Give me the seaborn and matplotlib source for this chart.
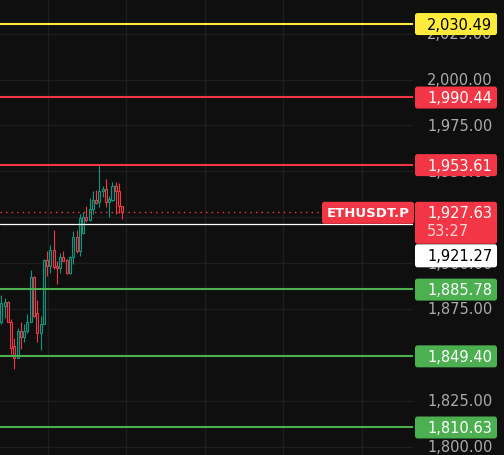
import numpy as np
import pandas as pd
import seaborn as sns
import matplotlib
matplotlib.use("Agg")
from matplotlib import pyplot as plt
from matplotlib.patches import FancyBboxPatch

# candle data (ETHUSDT.P)
opens = [1867.9, 1876.6, 1878.5, 1867.9, 1854.5, 1848.5, 1863.0, 1859.9, 1863.0, 1867.6,
         1892.1, 1872.5, 1861.6, 1867.0, 1901.5, 1898.5, 1907.0, 1898.1, 1897.5, 1903.5,
         1901.5, 1894.8, 1903.5, 1913.9, 1906.3, 1916.3, 1925.3, 1923.5, 1929.3, 1934.3,
         1933.0, 1939.0, 1940.6, 1933.0, 1934.4, 1941.7, 1939.3, 1930.8]
highs = [1882.5, 1881.2, 1879.4, 1869.4, 1859.0, 1864.8, 1867.6, 1866.7, 1872.1, 1896.1,
         1893.0, 1879.7, 1871.2, 1902.1, 1906.6, 1909.7, 1917.9, 1901.2, 1905.7, 1906.6,
         1902.1, 1903.9, 1917.2, 1917.9, 1926.6, 1927.9, 1930.8, 1935.2, 1939.3, 1939.7,
         1953.3, 1942.1, 1945.7, 1936.6, 1944.2, 1943.9, 1943.5, 1931.2]
lows = [1866.7, 1870.3, 1867.6, 1850.3, 1842.1, 1848.1, 1853.0, 1857.0, 1862.1, 1867.6,
        1870.8, 1856.7, 1852.7, 1866.7, 1893.0, 1894.8, 1896.6, 1888.5, 1894.8, 1901.2,
        1893.9, 1893.9, 1899.4, 1905.7, 1903.9, 1915.7, 1922.1, 1923.0, 1926.6, 1932.1,
        1930.3, 1935.7, 1930.3, 1925.3, 1933.9, 1926.6, 1927.5, 1923.9]
closes = [1878.1, 1878.5, 1867.9, 1853.9, 1848.5, 1863.0, 1859.9, 1863.0, 1867.6, 1892.1,
          1871.2, 1861.6, 1867.0, 1901.5, 1898.5, 1907.0, 1897.9, 1897.4, 1903.5, 1901.2,
          1894.8, 1903.5, 1913.9, 1906.3, 1924.3, 1925.3, 1923.5, 1929.3, 1934.3, 1932.6,
          1939.0, 1940.6, 1933.0, 1934.8, 1941.7, 1939.3, 1930.8, 1927.63]

level_prices = [2030.49, 1990.44, 1953.61, 1885.78, 1849.40, 1810.63]
level_colors = ["#FFEB3B", "#F23645", "#F23645", "#4CAF50", "#4CAF50", "#4CAF50"]
level_text = ["black", "white", "white", "white", "white", "white"]

last_price = 1927.63
countdown = "53:27"
white_price = 1921.27
symbol = "ETHUSDT.P"
tick_prices = [1800, 1825, 1850, 1875, 1900, 1925, 1950, 1975, 2000, 2025]

BG = "#0F0F0F"
GRID = "#1E1E1E"
UP = "#089981"
DOWN = "#F23645"
FS = 10.5

sns.set_theme(style="dark", rc={"axes.facecolor": BG, "figure.facecolor": BG})
plt.rcParams["font.family"] = ["DejaVu Sans"]

df = pd.DataFrame({"open": opens, "high": highs, "low": lows, "close": closes})
df["idx"] = np.arange(len(df))
df["color"] = np.where(df["close"] >= df["open"], UP, DOWN)

fig = plt.figure(figsize=(5.04, 4.56), dpi=100)
W, H = 504, 456
plot_w = 413
ax = fig.add_axes([0, 0, plot_w / W, 1])
ax2 = fig.add_axes([plot_w / W, 0, (W - plot_w) / W, 1])

ylo, yhi = 1795.37, 2043.87
px_per = H / (yhi - ylo)
ax.set_ylim(ylo, yhi)
ax2.set_ylim(ylo, yhi)
ax.set_xlim(-0.4, -0.4 + plot_w / 3.27)
ax2.set_xlim(0, W - plot_w)

# grid
for t in tick_prices:
    ax.axhline(t, color=GRID, lw=1, zorder=0)
for gx in np.arange(14.2, 126, 24):
    ax.axvline(gx, color=GRID, lw=1, zorder=0)

# candles (thin outlined bodies like the screenshot)
ax.vlines(df["idx"], df["low"], df["high"], colors=df["color"], lw=0.8, zorder=3)
body_lo = df[["open", "close"]].min(axis=1)
body_h = (df["open"] - df["close"]).abs().clip(lower=0.6)
ax.bar(df["idx"], body_h, bottom=body_lo, width=0.62, color="#1a1a1a",
       edgecolor=df["color"], linewidth=0.8, zorder=4)

# level lines
for p, c in zip(level_prices, level_colors):
    ax.axhline(p, color=c, lw=1.5, zorder=5)
ax.axhline(white_price, color="white", lw=0.9, zorder=5)
ax.axhline(last_price, color=DOWN, lw=1, ls=(0, (1, 3)), zorder=5)

ax.set_xticks([])
ax.set_yticks([])
for s in ax.spines.values():
    s.set_visible(False)
ax2.axis("off")

# price scale labels
for t in tick_prices:
    ax2.text(14, t, f"{t:,.2f}", color="#ABABAB", fontsize=FS, va="center", ha="left", zorder=1)


def box(axis, x0, w, yc_px_off, p, hpx, color, clip=True):
    h = hpx / px_per
    yc = p - yc_px_off / px_per
    patch = FancyBboxPatch((x0, yc - h / 2), w, h, boxstyle="round,pad=0,rounding_size=2.5",
                           mutation_aspect=1 / px_per, facecolor=color, edgecolor="none",
                           zorder=6, clip_on=clip)
    axis.add_patch(patch)
    return yc


for p, c, tc in zip(level_prices, level_colors, level_text):
    yc = box(ax2, 2, 82, 0.5, p, 22, c, clip=False)
    ax2.text(14, yc, f"{p:,.2f}", color=tc, fontsize=FS, va="center", ha="left", zorder=7)

# last price box (two lines)
top = last_price + 10.5 / px_per
bot = top - 42 / px_per
ax2.add_patch(FancyBboxPatch((2, bot), 82, top - bot, boxstyle="round,pad=0,rounding_size=2.5",
                             mutation_aspect=1 / px_per, facecolor=DOWN, edgecolor="none",
                             zorder=6, clip_on=False))
ax2.text(14, last_price - 0.5 / px_per, f"{last_price:,.2f}", color="white", fontsize=FS,
         va="center", ha="left", zorder=7)
ax2.text(14, last_price - 18.5 / px_per, countdown, color="#FBD3D7", fontsize=FS,
         va="center", ha="left", zorder=7)

# white price box pushed below
wy = bot - 12 / px_per
ax2.add_patch(FancyBboxPatch((2, wy - 11.5 / px_per), 82, 23 / px_per,
                             boxstyle="round,pad=0,rounding_size=2.5", mutation_aspect=1 / px_per,
                             facecolor="white", edgecolor="none", zorder=6, clip_on=False))
ax2.text(14, wy, f"{white_price:,.2f}", color="black", fontsize=FS, va="center", ha="left", zorder=7)

# symbol tag
sy = last_price - 0.5 / px_per
ax2.add_patch(FancyBboxPatch((-91, sy - 11 / px_per), 92, 22 / px_per,
                             boxstyle="round,pad=0,rounding_size=2.5", mutation_aspect=1 / px_per,
                             facecolor=DOWN, edgecolor="none", zorder=6, clip_on=False))
ax2.text(-45, sy, symbol, color="white", fontsize=9.5, fontweight="bold", va="center",
         ha="center", zorder=7, clip_on=False)

fig.savefig("out.png", dpi=100, facecolor=BG)
